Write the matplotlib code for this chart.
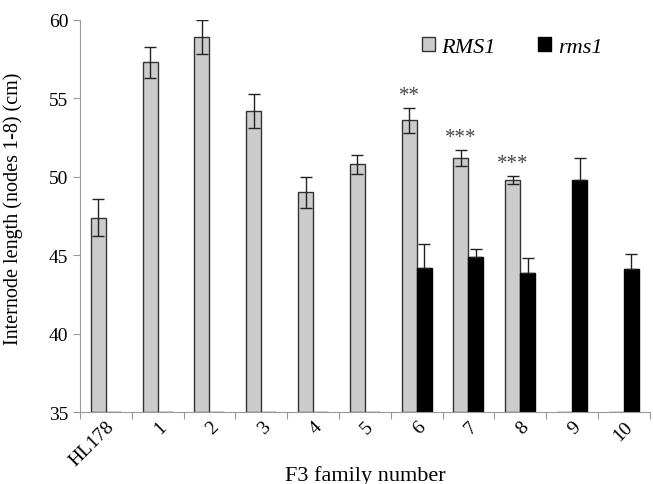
import matplotlib
matplotlib.use('Agg')
import matplotlib.pyplot as plt
import numpy as np

plt.rcParams['font.family'] = ['Liberation Serif', 'DejaVu Serif']

families = ['HL178', '1', '2', '3', '4', '5', '6', '7', '8', '9', '10']
rms1_wt = [47.4, 57.3, 58.9, 54.2, 49.0, 50.8, 53.6, 51.2, 49.8, 0, 0]
rms1_wt_err = [1.2, 1.0, 1.1, 1.1, 1.0, 0.6, 0.8, 0.5, 0.25, 0, 0]
rms1_mut = [0, 0, 0, 0, 0, 0, 44.2, 44.9, 43.9, 49.8, 44.1]
rms1_mut_err = [0, 0, 0, 0, 0, 0, 1.5, 0.5, 0.9, 1.4, 1.0]
stars = {6: '**', 7: '***', 8: '***'}

base = 35
x = np.arange(len(families))
w = 0.29

fig = plt.figure(figsize=(6.53, 4.85), dpi=100)
ax = fig.add_axes([0.1225, 0.148, 0.8725, 0.809])

h_wt = [max(v - base, 0) for v in rms1_wt]
h_mut = [max(v - base, 0) for v in rms1_mut]
ax.bar(x - w/2, h_wt, w, bottom=base, color='#cccccc', edgecolor='#333333', linewidth=1.0, label='RMS1')
ax.bar(x + w/2, h_mut, w, bottom=base, color='black', edgecolor='black', linewidth=1.0, label='rms1')

for i in range(len(families)):
    if rms1_wt[i] > 0:
        ax.errorbar(x[i] - w/2, rms1_wt[i], yerr=rms1_wt_err[i], color='#222222', capsize=4, elinewidth=1, capthick=1)
    if rms1_mut[i] > 0:
        ax.errorbar(x[i] + w/2, rms1_mut[i], yerr=[[0], [rms1_mut_err[i]]], color='#222222', capsize=4, elinewidth=1, capthick=1)

for i, s in stars.items():
    ax.text(x[i] - w/2, rms1_wt[i] + rms1_wt_err[i] + 0.2, s, ha='center', va='bottom', fontsize=15, color='#444444')

ax.set_xlim(-0.5, len(families) - 0.5)
ax.set_ylim(35, 60)
ax.set_yticks(range(35, 61, 5))
ax.tick_params(axis='y', labelsize=14, color='#999999', length=5)
ax.set_xticks(np.arange(-0.5, len(families), 1.0))
ax.set_xticklabels([])
ax.set_xticks(x, minor=True)
ax.set_xticklabels(families, minor=True, rotation=45, ha='right', rotation_mode='anchor', fontsize=14)
ax.tick_params(axis='x', which='major', length=5, color='#999999')
ax.tick_params(axis='x', which='minor', length=0, pad=4)

for sp in ['top', 'right']:
    ax.spines[sp].set_visible(False)
for sp in ['left', 'bottom']:
    ax.spines[sp].set_color('#999999')

ax.set_ylabel('Internode length (nodes 1-8) (cm)', fontsize=14.5)
ax.yaxis.set_label_coords(-0.1, 0.52)
ax.set_xlabel('F3 family number', fontsize=16)
ax.xaxis.set_label_coords(0.5, -0.135)

leg = ax.legend(loc='upper left', bbox_to_anchor=(0.58, 0.985), ncol=2, frameon=False,
                prop={'style': 'italic', 'size': 16, 'family': 'Liberation Serif'},
                handlelength=0.6, handleheight=0.6, handletextpad=0.3, columnspacing=1.9,
                borderpad=0)

fig.savefig('out.png', dpi=100)
